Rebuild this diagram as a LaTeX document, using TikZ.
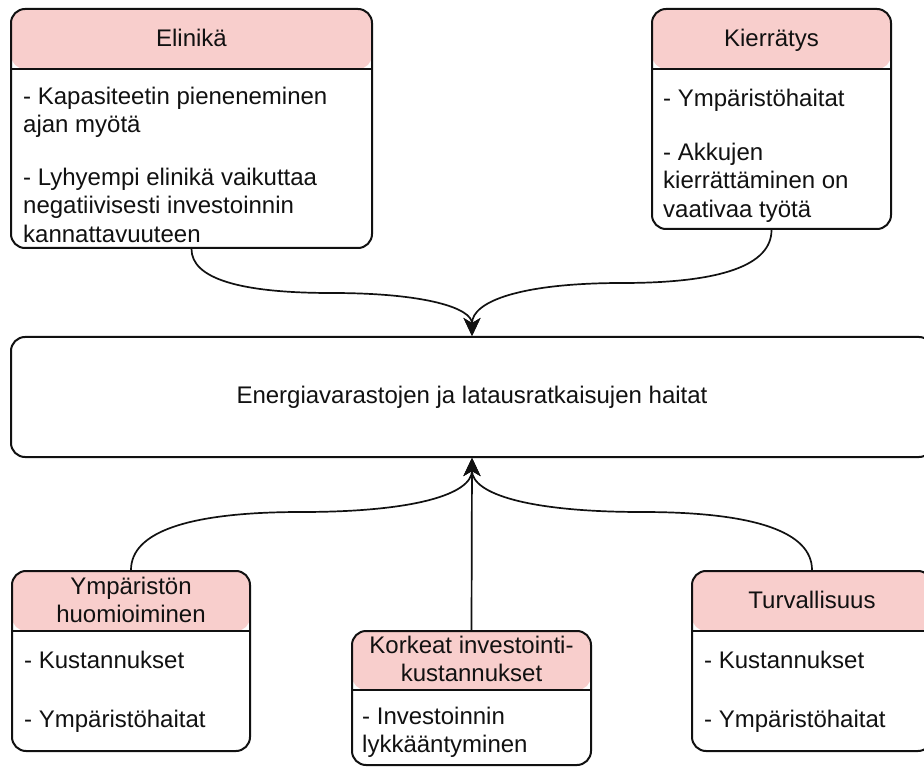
\documentclass[tikz,border=0pt]{standalone}
\usepackage{fontspec}
\setmainfont{Liberation Sans}
\usetikzlibrary{arrows.meta}
\definecolor{hdrpink}{HTML}{F8CECC}
\definecolor{ink}{HTML}{111111}
\begin{document}
\begin{tikzpicture}[x=1pt,y=-1pt,
  card/.style={draw=ink, line width=2pt, rounded corners=14pt, fill=white, inner sep=0pt,
    path picture={
      \fill[hdrpink] (path picture bounding box.north west) rectangle ([yshift=-#1]path picture bounding box.north east);
      \draw[ink, line width=2pt] ([yshift=-#1]path picture bounding box.north west) -- ([yshift=-#1]path picture bounding box.north east);}},
  card/.default=60pt,
  hubbox/.style={draw=ink, line width=2pt, rounded corners=14pt, fill=white, inner sep=0pt},
  txt/.style={inner sep=0pt, font=\fontsize{24}{28.8}\selectfont, text=ink},
  body/.style={txt, anchor=north west, align=left},
  head/.style={txt, align=center},
  link/.style={draw=ink, line width=1.7pt, -{Stealth[length=18pt,width=17pt,inset=5pt]}}
]
\useasboundingbox (0,0) rectangle (924,767);

% boxes
\node[card, minimum width=361pt, minimum height=239pt] (eli) at (191.5,128.5) {};
\node[card, minimum width=239pt, minimum height=220pt] (kier) at (771.5,119) {};
\node[hubbox, minimum width=922pt, minimum height=120pt] (hub) at (472,397) {};
\node[card, minimum width=238pt, minimum height=180pt] (ymp) at (131,661) {};
\node[card=59pt, minimum width=239pt, minimum height=134pt] (kork) at (471.5,698) {};
\node[card, minimum width=240pt, minimum height=180pt] (turv) at (812,661) {};

% titles
\node[head, anchor=base] (eliT) at (191.5,47) {Elinikä};
\node[head, anchor=base] (kierT) at (771.5,47) {Kierrätys};
\node[head, anchor=base] (hubT) at (472,403) {Energiavarastojen ja latausratkaisujen haitat};
\node[head, anchor=north] (ympT) at (131,576.5) {Ympäristön\\huomioiminen};
\node[head, anchor=north] (korkT) at (471.5,635.5) {Korkeat investointi-\\kustannukset};
\node[head, anchor=base] (turvT) at (812,608) {Turvallisuus};

% contents
\node[body] (eliA) at (23,86.5) {- Kapasiteetin pieneneminen\\ajan myötä};
\node[body] (eliB) at (23,167.5) {- Lyhyempi elinikä vaikuttaa\\negatiivisesti investoinnin\\kannattavuuteen};
\node[body] (kierA) at (663,88.5) {- Ympäristöhaitat};
\node[body] (kierB) at (663,142.5) {- Akkujen\\kierrättäminen on\\vaativaa työtä};
\node[body] (ympA) at (24,650.5) {- Kustannukset};
\node[body] (ympB) at (24,709.5) {- Ympäristöhaitat};
\node[body] (korkA) at (362,706.5) {- Investoinnin\\lykkääntyminen};
\node[body] (turvA) at (704,650.5) {- Kustannukset};
\node[body] (turvB) at (704,709.5) {- Ympäristöhaitat};

% connectors
\draw[link] (eli.south) .. controls (191.5,278) and (238,293) .. (331.5,293)
  .. controls (425,293) and (472,308) .. (hub.north);
\draw[link] (kier.south) .. controls (771.5,265) and (722,283) .. (622,283)
  .. controls (522,283) and (472,301) .. (hub.north);
\draw[link] (ymp.north) .. controls (131,532) and (188,512) .. (301.5,512)
  .. controls (415,512) and (472,494) .. (hub.south);
\draw[link] (turv.north) .. controls (812,532) and (755,512) .. (642,512)
  .. controls (529,512) and (472,494) .. (hub.south);
\draw[link] (kork.north) -- (hub.south);
\end{tikzpicture}
\end{document}
